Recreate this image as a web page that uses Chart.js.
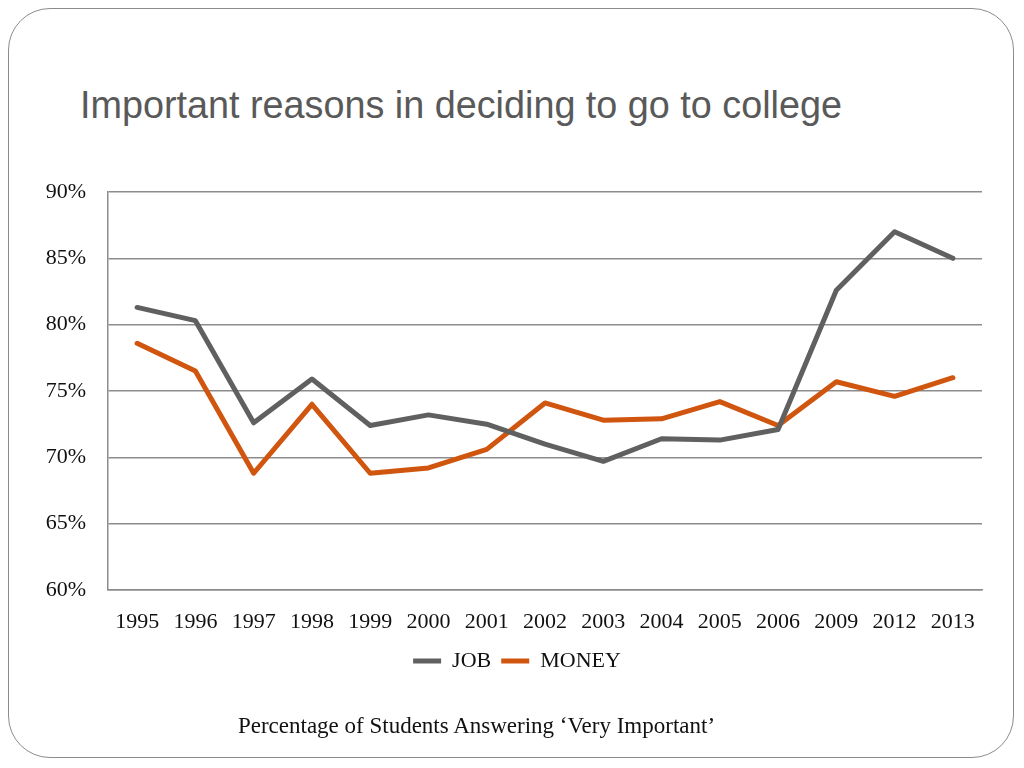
<!DOCTYPE html>
<html>
<head>
<meta charset="utf-8">
<script src="https://cdn.jsdelivr.net/npm/chart.js@4/dist/chart.umd.min.js"></script>
<style>
  html, body { margin: 0; padding: 0; background: #fff; }
  body { width: 1024px; height: 768px; position: relative; overflow: hidden; }
  #frame { position: absolute; left: 8px; top: 8px; width: 1006px; height: 750px;
           border: 1.5px solid #8c8c8c; border-radius: 42px; box-sizing: border-box; }
  #title { position: absolute; left: 80px; top: 82px; margin: 0;
           font-family: "Liberation Sans", Arial, sans-serif;
           font-weight: normal; font-size: 38px; line-height: 46px; color: #595959; white-space: nowrap;
           transform-origin: 0 0; }
  #sub { position: absolute; left: 0; width: 953px; top: 713px; text-align: center;
         font-family: "Liberation Serif", "DejaVu Serif", serif; font-size: 23px; color: #111; }
  #wrap { position: absolute; left: 0; top: 0; width: 1024px; height: 768px; }
</style>
</head>
<body>
<div id="frame"></div>
<h1 id="title">Important reasons in deciding to go to college</h1>
<div id="wrap"><canvas id="c" width="1024" height="768"></canvas></div>
<div id="sub">Percentage of Students Answering ‘Very Important’</div>
<script>
const categories = ["1995","1996","1997","1998","1999","2000","2001","2002","2003","2004","2005","2006","2009","2012","2013"];
const jobValues   = [81.3, 80.3, 72.6, 75.9, 72.4, 73.2, 72.5, 71.0, 69.7, 71.4, 71.3, 72.1, 82.6, 87.0, 85.0];
const moneyValues = [78.6, 76.5, 68.8, 74.0, 68.8, 69.2, 70.6, 74.1, 72.8, 72.9, 74.2, 72.4, 75.7, 74.6, 76.0];
const yTicks = [60, 65, 70, 75, 80, 85, 90];

const serif = "'Liberation Serif', 'DejaVu Serif', serif";

const legendShift = {
  id: 'legendShift',
  afterLayout(chart) {
    const lg = chart.legend;
    if (lg) { lg.left += 26; lg.right += 26; }
  }
};

new Chart(document.getElementById('c'), {
  type: 'line',
  data: {
    labels: categories,
    datasets: [
      { label: 'JOB', data: jobValues, borderColor: '#606060', backgroundColor: '#606060',
        borderWidth: 5, pointRadius: 0, pointStyle: 'line', tension: 0,
        borderCapStyle: 'round', borderJoinStyle: 'round' },
      { label: 'MONEY', data: moneyValues, borderColor: '#D0550F', backgroundColor: '#D0550F',
        borderWidth: 5, pointRadius: 0, pointStyle: 'line', tension: 0,
        borderCapStyle: 'round', borderJoinStyle: 'round' }
    ]
  },
  plugins: [legendShift],
  options: {
    responsive: false,
    animation: false,
    layout: { padding: { left: 0, right: 42, top: 192, bottom: 86 } },
    plugins: {
      tooltip: { enabled: false },
      legend: {
        position: 'bottom',
        labels: {
          usePointStyle: true, pointStyleWidth: 28, boxHeight: 6, padding: 10,
          color: '#111', font: { family: serif, size: 22 }
        }
      }
    },
    scales: {
      x: {
        offset: true,
        grid: { display: false, drawTicks: false, offset: true },
        border: { display: true, color: '#8c8c8c', width: 1.5 },
        ticks: { color: '#111', font: { family: serif, size: 22 }, padding: 19, maxRotation: 0, autoSkip: false },
        afterFit: s => { s.height = 50; }
      },
      y: {
        min: 60, max: 90,
        afterBuildTicks: s => { s.ticks = yTicks.map(v => ({ value: v })); },
        grid: { color: '#8c8c8c', lineWidth: 1.5, drawTicks: false },
        border: { display: true, color: '#8c8c8c', width: 1.5 },
        ticks: { color: '#111', font: { family: serif, size: 22 }, padding: 22,
                 callback: v => v + '%' },
        afterFit: s => { s.width = 108; }
      }
    }
  }
});

// fit title to reference width
const t = document.getElementById('title');
const w = t.getBoundingClientRect().width;
t.style.transform = 'scaleX(' + (762 / w) + ')';
</script>
</body>
</html>
